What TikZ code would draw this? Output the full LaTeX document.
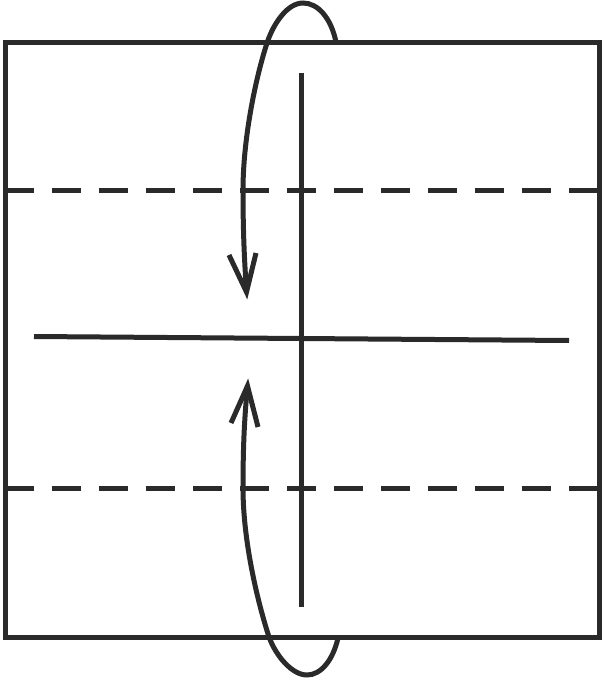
\documentclass[tikz,border=0pt]{standalone}
\usepackage{xcolor}
\definecolor{ink}{HTML}{2A2A2A}
\begin{document}
\begin{tikzpicture}[x=1pt,y=-1pt,
  inkline/.style={draw=ink,line width=5pt,line cap=butt,line join=miter},
  foldline/.style={inkline,dash pattern=on 29pt off 18pt},
  arrowhead/.style={inkline,line join=miter,miter limit=20}]
\useasboundingbox[fill=white] (0,0) rectangle (602,679);
% paper square
\coordinate (tl) at (5,43);
\coordinate (br) at (599,637);
\draw[inkline] (tl) rectangle (br);
% dashed fold lines
\coordinate (d1l) at (5,190);  \coordinate (d1r) at (599,190);
\coordinate (d2l) at (5,488);  \coordinate (d2r) at (599,488);
\draw[foldline] (d1l) -- (d1r);
\draw[foldline] (d2l) -- (d2r);
% creases
\coordinate (hl) at (34,336.5); \coordinate (hr) at (569,340.5);
\coordinate (vt) at (301.5,73); \coordinate (vb) at (301.5,607);
\draw[inkline] (hl) -- (hr);
\draw[inkline] (vt) -- (vb);
% top arrow
\coordinate (a0) at (336,42);
\coordinate (a1) at (303,3);
\coordinate (a2) at (267,43);
\coordinate (a3) at (243,190);
\coordinate (a4) at (246.5,292);
\draw[inkline] (a0) .. controls (331,18) and (318,3) .. (a1)
  .. controls (288,3) and (274,22) .. (a2)
  .. controls (255,80) and (243,140) .. (a3)
  .. controls (243,240) and (245,268) .. (a4);
\coordinate (aw1) at (229,255);
\coordinate (aw2) at (256,253);
\draw[arrowhead] (aw1) -- (a4) -- (aw2);
% bottom arrow
\coordinate (b0) at (338,638);
\coordinate (b1) at (307,675);
\coordinate (b2) at (269,637);
\coordinate (b3) at (243,488);
\coordinate (b4) at (247.5,386);
\draw[inkline] (b0) .. controls (333,660) and (321,675) .. (b1)
  .. controls (292,675) and (276,656) .. (b2)
  .. controls (257,600) and (243,540) .. (b3)
  .. controls (243,440) and (245,412) .. (b4);
\coordinate (bw1) at (231,423);
\coordinate (bw2) at (258,427);
\draw[arrowhead] (bw1) -- (b4) -- (bw2);
\end{tikzpicture}
\end{document}
